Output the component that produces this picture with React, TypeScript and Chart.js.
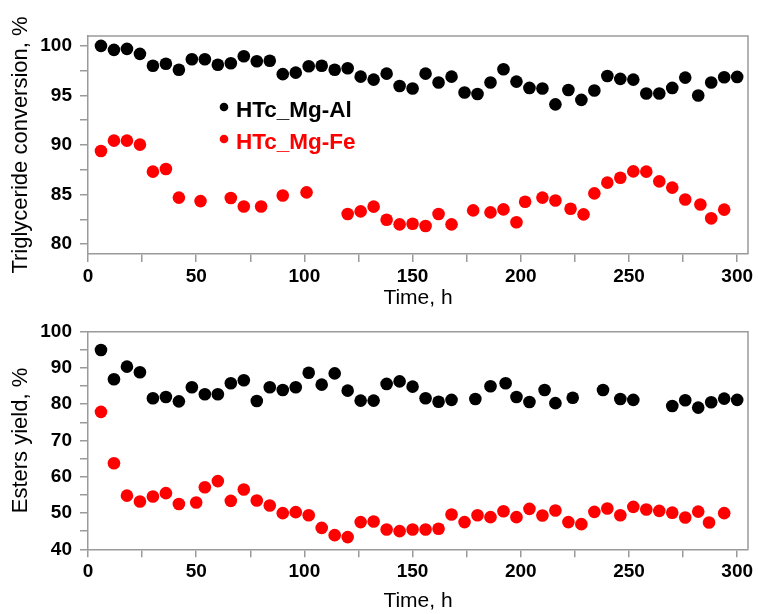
import React, { useEffect, useRef } from "react";
import { Chart, registerables } from "chart.js";

Chart.register(...registerables);

// ---------- Data ----------
// Top panel: Triglyceride conversion, %
const convTimeAl = [6, 12, 18, 24, 30, 36, 42, 48, 54, 60, 66, 72, 78, 84, 90, 96, 102, 108, 114, 120, 126, 132, 138, 144, 150, 156, 162, 168, 174, 180, 186, 192, 198, 204, 210, 216, 222, 228, 234, 240, 246, 252, 258, 264, 270, 276, 282, 288, 294, 300];
const convAl = [100.0, 99.6, 99.7, 99.2, 98.0, 98.2, 97.6, 98.65, 98.65, 98.1, 98.25, 98.95, 98.45, 98.5, 97.15, 97.3, 97.95, 98.0, 97.6, 97.75, 96.9, 96.6, 97.2, 95.96, 95.7, 97.2, 96.3, 96.9, 95.3, 95.15, 96.3, 97.65, 96.4, 95.76, 95.7, 94.1, 95.55, 94.55, 95.5, 96.97, 96.67, 96.6, 95.2, 95.2, 95.76, 96.8, 95.0, 96.3, 96.84, 96.87];

const convTimeFe = [6, 12, 18, 24, 30, 36, 42, 52, 66, 72, 80, 90, 101, 120, 126, 132, 138, 144, 150, 156, 162, 168, 178, 186, 192, 198, 202, 210, 216, 223, 229, 234, 240, 246, 252, 258, 264, 270, 276, 283, 288, 294];
const convFe = [89.4, 90.44, 90.44, 90.04, 87.31, 87.58, 84.69, 84.34, 84.65, 83.8, 83.8, 84.9, 85.22, 83.03, 83.3, 83.78, 82.46, 81.99, 82.06, 81.82, 83.03, 81.99, 83.4, 83.2, 83.5, 82.2, 84.28, 84.69, 84.4, 83.57, 83.0, 85.12, 86.2, 86.7, 87.34, 87.31, 86.33, 85.7, 84.5, 84.0, 82.6, 83.48];

// Bottom panel: Esters yield, %
const yieldTimeAl = [6, 12, 18, 24, 30, 36, 42, 48, 54, 60, 66, 72, 78, 84, 90, 96, 102, 108, 114, 120, 126, 132, 138, 144, 150, 156, 162, 168, 179, 186, 193, 198, 204, 211, 216, 224, 238, 246, 252, 270, 276, 282, 288, 294, 300];
const yieldAl = [94.96, 86.88, 90.36, 88.8, 81.65, 82.0, 80.8, 84.7, 82.75, 82.75, 85.8, 86.6, 80.9, 84.7, 83.94, 84.7, 88.7, 85.4, 88.5, 83.75, 81.0, 81.0, 85.6, 86.3, 84.85, 81.65, 80.7, 81.2, 81.45, 84.95, 85.8, 82.0, 80.63, 83.94, 80.3, 81.8, 83.94, 81.45, 81.2, 79.5, 81.1, 79.07, 80.55, 81.55, 81.2];

const yieldTimeFe = [6, 12, 18, 24, 30, 36, 42, 50, 54, 60, 66, 72, 78, 84, 90, 96, 102, 108, 114, 120, 126, 132, 138, 144, 150, 156, 162, 168, 174, 180, 186, 192, 198, 204, 210, 216, 222, 228, 234, 240, 246, 252, 258, 264, 270, 276, 282, 287, 294];
const yieldFe = [77.9, 63.74, 54.8, 53.17, 54.55, 55.48, 52.5, 52.9, 57.1, 58.8, 53.36, 56.5, 53.45, 52.07, 49.97, 50.25, 49.4, 45.9, 43.9, 43.36, 47.5, 47.66, 45.45, 45.0, 45.45, 45.45, 45.65, 49.6, 47.5, 49.4, 48.87, 50.5, 48.87, 51.15, 49.3, 50.7, 47.5, 46.94, 50.33, 51.24, 49.4, 51.7, 50.96, 50.6, 50.1, 48.76, 50.4, 47.4, 49.97];

const seriesNames = ["HTc_Mg-Al", "HTc_Mg-Fe"];
const seriesColors = ["#000000", "#ff0000"];
const xTitle = "Time, h";
const yTitleTop = "Triglyceride conversion, %";
const yTitleBottom = "Esters yield, %";

// ---------- Styling ----------
const FONT = "'Liberation Sans', Arial, Helvetica, sans-serif";
const AXIS_COLOR = "#9a9a9a";
const W = 758;

const toPts = (xs: number[], ys: number[]) => xs.map((x, i) => ({ x, y: ys[i] }));

const framePlugin = {
  id: "frame",
  afterDraw(chart: any) {
    const { ctx, chartArea } = chart;
    ctx.save();
    ctx.strokeStyle = AXIS_COLOR;
    ctx.lineWidth = 1.5;
    ctx.beginPath();
    ctx.moveTo(chartArea.left, chartArea.top);
    ctx.lineTo(chartArea.right, chartArea.top);
    ctx.lineTo(chartArea.right, chartArea.bottom);
    ctx.stroke();
    ctx.restore();
  },
};

const legendPlugin = {
  id: "innerLegend",
  afterDraw(chart: any) {
    const { ctx } = chart;
    ctx.save();
    ctx.font = `bold 22.5px ${FONT}`;
    ctx.textBaseline = "alphabetic";
    ctx.textAlign = "left";
    const rows = [
      { y: 116.5, dotY: 107 },
      { y: 148.5, dotY: 139 },
    ];
    rows.forEach((r, i) => {
      ctx.fillStyle = seriesColors[i];
      ctx.beginPath();
      ctx.arc(224, r.dotY, 4.3, 0, Math.PI * 2);
      ctx.fill();
      ctx.fillText(seriesNames[i], 236, r.y);
    });
    ctx.restore();
  },
};

function makeConfig(opts: {
  dataAl: { x: number; y: number }[];
  dataFe: { x: number; y: number }[];
  yMin: number;
  yMax: number;
  yStep: number;
  yLabelEvery: number;
  yTitle: string;
  padTop: number;
  xAxisHeight: number;
  legend: boolean;
}) {
  const tickFont = { family: FONT, size: 19, weight: "bold" as const };
  const titleFont = { family: FONT, size: 21, weight: "normal" as const, lineHeight: 1.2 };
  return {
    type: "scatter" as const,
    data: {
      datasets: [
        {
          label: seriesNames[0],
          data: opts.dataAl,
          backgroundColor: seriesColors[0],
          borderColor: seriesColors[0],
          pointRadius: 6.3,
          pointBorderWidth: 0,
          showLine: false,
        },
        {
          label: seriesNames[1],
          data: opts.dataFe,
          backgroundColor: seriesColors[1],
          borderColor: seriesColors[1],
          pointRadius: 6.3,
          pointBorderWidth: 0,
          showLine: false,
        },
      ],
    },
    options: {
      responsive: false,
      animation: false as const,
      devicePixelRatio: 1,
      layout: { padding: { top: opts.padTop, right: 10, left: 0, bottom: 0 } },
      plugins: {
        legend: { display: false },
        tooltip: { enabled: false },
      },
      scales: {
        x: {
          type: "linear" as const,
          min: 0,
          max: 305,
          grid: {
            drawOnChartArea: false,
            drawTicks: true,
            tickLength: 8,
            color: AXIS_COLOR,
            lineWidth: 1.5,
          },
          border: { color: AXIS_COLOR, width: 1.5 },
          ticks: {
            stepSize: 25,
            includeBounds: false,
            autoSkip: false,
            maxRotation: 0,
            padding: 3,
            color: "#000",
            font: tickFont,
            callback: (v: any) => (Math.abs(Number(v) % 50) < 1e-6 ? String(v) : ""),
          },
          title: {
            display: true,
            text: xTitle,
            color: "#000",
            font: titleFont,
            padding: 0,
          },
          afterFit: (s: any) => {
            s.height = opts.xAxisHeight;
            s.paddingLeft = 0;
            s.paddingRight = 0;
          },
        },
        y: {
          type: "linear" as const,
          min: opts.yMin,
          max: opts.yMax,
          grid: {
            drawOnChartArea: false,
            drawTicks: true,
            tickLength: 8,
            color: AXIS_COLOR,
            lineWidth: 1.5,
          },
          border: { color: AXIS_COLOR, width: 1.5 },
          ticks: {
            stepSize: opts.yStep,
            includeBounds: false,
            autoSkip: false,
            padding: 8,
            color: "#000",
            font: tickFont,
            callback: (v: any) =>
              Math.abs(Number(v) % opts.yLabelEvery) < 1e-6 ? String(Math.round(Number(v))) : "",
          },
          title: {
            display: true,
            text: opts.yTitle,
            color: "#000",
            font: { family: FONT, size: 22, weight: "normal" as const, lineHeight: 1.2 },
            padding: { top: 8, bottom: 0 },
          },
          afterFit: (s: any) => {
            s.width = 88;
            s.paddingTop = 0;
            s.paddingBottom = 0;
          },
        },
      },
    },
    plugins: opts.legend ? [framePlugin, legendPlugin] : [framePlugin],
  };
}

const TOP_H = 311;
const BOTTOM_H = 303;

export default function App() {
  const topRef = useRef<HTMLCanvasElement>(null);
  const bottomRef = useRef<HTMLCanvasElement>(null);

  useEffect(() => {
    const c1 = new Chart(
      topRef.current as HTMLCanvasElement,
      makeConfig({
        dataAl: toPts(convTimeAl, convAl),
        dataFe: toPts(convTimeFe, convFe),
        yMin: 79,
        yMax: 101,
        yStep: 2.5,
        yLabelEvery: 5,
        yTitle: yTitleTop,
        padTop: 36,
        xAxisHeight: TOP_H - 254,
        legend: true,
      }) as any
    );
    const c2 = new Chart(
      bottomRef.current as HTMLCanvasElement,
      makeConfig({
        dataAl: toPts(yieldTimeAl, yieldAl),
        dataFe: toPts(yieldTimeFe, yieldFe),
        yMin: 40,
        yMax: 100,
        yStep: 5,
        yLabelEvery: 10,
        yTitle: yTitleBottom,
        padTop: 331.7 - TOP_H,
        xAxisHeight: BOTTOM_H - (549.3 - TOP_H),
        legend: false,
      }) as any
    );
    return () => {
      c1.destroy();
      c2.destroy();
    };
  }, []);

  return (
    <div
      style={{
        position: "absolute",
        left: 0,
        top: 0,
        width: W,
        height: TOP_H + BOTTOM_H,
        background: "#fff",
        overflow: "hidden",
      }}
    >
      <canvas
        ref={topRef}
        width={W}
        height={TOP_H}
        style={{ position: "absolute", left: 0, top: 0, width: W, height: TOP_H }}
      />
      <canvas
        ref={bottomRef}
        width={W}
        height={BOTTOM_H}
        style={{ position: "absolute", left: 0, top: TOP_H, width: W, height: BOTTOM_H }}
      />
    </div>
  );
}
